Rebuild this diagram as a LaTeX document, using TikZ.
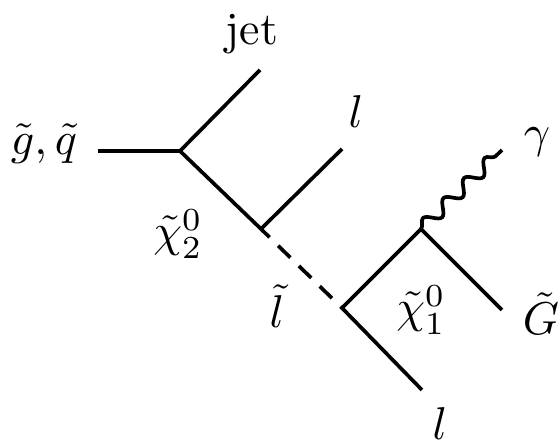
\documentclass[tikz,border=0pt]{standalone}
\usetikzlibrary{decorations.pathmorphing}
\begin{document}
\begin{tikzpicture}[x=0.2174pt,y=-0.2174pt,
  particle/.style={line width=0.8pt},
  scalar/.style={line width=0.8pt, dash pattern=on 3.7pt off 2.61pt, dash phase=1.09pt},
  photon/.style={line width=0.8pt, decorate, decoration={snake, segment length=6.24pt, amplitude=1.4pt}},
  lbl/.style={anchor=base, inner sep=0pt}]
\useasboundingbox (0,0) rectangle (559,442);
% vertices and free ends
\coordinate (in) at (98,151);
\coordinate (A) at (180,151);
\coordinate (jetend) at (260,70);
\coordinate (B) at (261,229);
\coordinate (l1end) at (342,149);
\coordinate (C) at (342,308);
\coordinate (l2end) at (422,390);
\coordinate (D) at (421,229);
\coordinate (Gend) at (502,310);
\coordinate (gend) at (502,150);
% lines
\draw[particle] (in) -- (A);
\draw[particle] (A) -- (jetend);
\draw[particle] (A) -- (B);
\draw[particle] (B) -- (l1end);
\draw[scalar] (B) -- (C);
\draw[particle] (C) -- (l2end);
\draw[particle] (C) -- (D);
\draw[particle] (D) -- (Gend);
\draw[photon] (D) -- (gend);
% labels
\node[lbl] (tin) at (44,155) {$\tilde{g},\tilde{q}$};
\node[lbl] (tjet) at (252,45) {jet};
\node[lbl] (tl1) at (356,128) {$l$};
\node[lbl] (tgam) at (537,148) {$\gamma$};
\node[lbl] (tchi2) at (178,247) {$\tilde{\chi}_2^0$};
\node[lbl] (tsl) at (277,328) {$\tilde{l}$};
\node[lbl] (tchi1) at (421,323) {$\tilde{\chi}_1^0$};
\node[lbl] (tG) at (541,335) {$\tilde{G}$};
\node[lbl] (tl2) at (440,440) {$l$};
\end{tikzpicture}
\end{document}
